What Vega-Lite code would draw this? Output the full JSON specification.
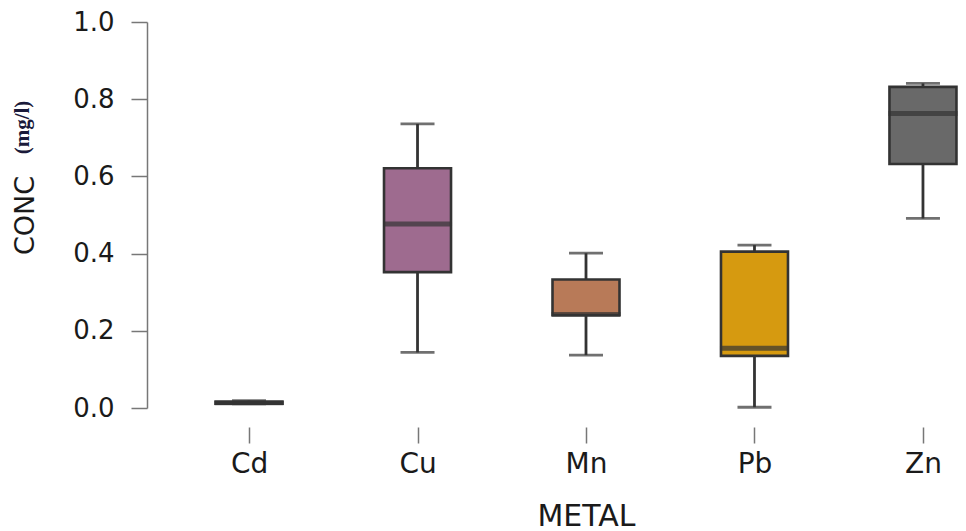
{
  "$schema": "https://vega.github.io/schema/vega-lite/v6.json",
  "width": 742,
  "height": 386,
  "autosize": "none",
  "padding": {"left": 215, "top": 22, "right": 9, "bottom": 123},
  "background": "white",
  "config": {"view": {"stroke": null}},
  "data": {
    "values": [
      {"metal": "Cd", "lower": 0.011, "q1": 0.011, "median": 0.0135, "q3": 0.016, "upper": 0.019},
      {"metal": "Cu", "lower": 0.144, "q1": 0.352, "median": 0.477, "q3": 0.621, "upper": 0.736},
      {"metal": "Mn", "lower": 0.137, "q1": 0.241, "median": 0.242, "q3": 0.333, "upper": 0.401},
      {"metal": "Pb", "lower": 0.002, "q1": 0.135, "median": 0.155, "q3": 0.405, "upper": 0.422},
      {"metal": "Zn", "lower": 0.491, "q1": 0.632, "median": 0.763, "q3": 0.832, "upper": 0.841}
    ]
  },
  "encoding": {
    "x": {
      "field": "metal",
      "type": "nominal",
      "sort": ["Cd", "Cu", "Mn", "Pb", "Zn"],
      "scale": {"type": "point", "padding": 0.202},
      "axis": {
        "orient": "bottom",
        "offset": 19,
        "domain": false,
        "tickSize": 16,
        "tickColor": "#777777",
        "tickWidth": 1.5,
        "labelAngle": 0,
        "labelFont": "DejaVu Sans",
        "labelFontSize": 28,
        "labelColor": "#1a1a1a",
        "labelPadding": 7,
        "title": "METAL",
        "titleFont": "DejaVu Sans",
        "titleFontSize": 30,
        "titleFontWeight": "normal",
        "titleColor": "#1a1a1a",
        "titlePadding": 23
      }
    }
  },
  "layer": [
    {
      "mark": {"type": "rule", "color": "#333333", "strokeWidth": 2.8},
      "encoding": {
        "y": {
          "field": "lower",
          "type": "quantitative",
          "scale": {"domain": [0, 1], "nice": false, "zero": true},
          "axis": {
            "orient": "left",
            "offset": 68,
            "grid": false,
            "values": [0, 0.2, 0.4, 0.6, 0.8, 1.0],
            "format": ".1f",
            "domainColor": "#777777",
            "domainWidth": 1.5,
            "tickColor": "#777777",
            "tickWidth": 1.5,
            "tickSize": 16,
            "labelFont": "DejaVu Sans",
            "labelFontSize": 26,
            "labelColor": "#1a1a1a",
            "labelPadding": 17,
            "title": "CONC",
            "titleFont": "DejaVu Sans",
            "titleFontSize": 27,
            "titleFontWeight": "normal",
            "titleColor": "#1a1a1a",
            "titleAngle": -90,
            "titleAlign": "center",
            "titleBaseline": "middle",
            "titleX": -122,
            "titleY": 193
          }
        },
        "y2": {"field": "upper"}
      }
    },
    {
      "mark": {"type": "tick", "color": "#333333", "thickness": 2.8, "size": 34},
      "encoding": {"y": {"field": "lower", "type": "quantitative", "axis": null}}
    },
    {
      "mark": {"type": "tick", "color": "#333333", "thickness": 2.8, "size": 34},
      "encoding": {"y": {"field": "upper", "type": "quantitative", "axis": null}}
    },
    {
      "mark": {"type": "bar", "size": 67, "stroke": "#333333", "strokeWidth": 2.6, "opacity": 1},
      "encoding": {
        "y": {"field": "q1", "type": "quantitative", "axis": null},
        "y2": {"field": "q3"},
        "color": {
          "field": "metal",
          "type": "nominal",
          "scale": {"domain": ["Cd", "Cu", "Mn", "Pb", "Zn"], "range": ["#3a3a3a", "#9e6b8f", "#b87a58", "#d69a10", "#696969"]},
          "legend": null
        }
      }
    },
    {
      "mark": {"type": "tick", "color": "#333333", "thickness": 5, "size": 69},
      "encoding": {
        "y": {
          "field": "median",
          "type": "quantitative",
          "axis": {
            "orient": "left",
            "offset": 68,
            "grid": false,
            "domain": false,
            "ticks": false,
            "labels": false,
            "title": "(mg/l)",
            "titleFont": "Liberation Serif",
            "titleFontSize": 21,
            "titleFontWeight": "bold",
            "titleColor": "#1a1a3a",
            "titleAngle": -90,
            "titleAlign": "center",
            "titleBaseline": "middle",
            "titleX": -125,
            "titleY": 105
          }
        }
      }
    }
  ],
  "resolve": {"axis": {"y": "independent"}}
}
